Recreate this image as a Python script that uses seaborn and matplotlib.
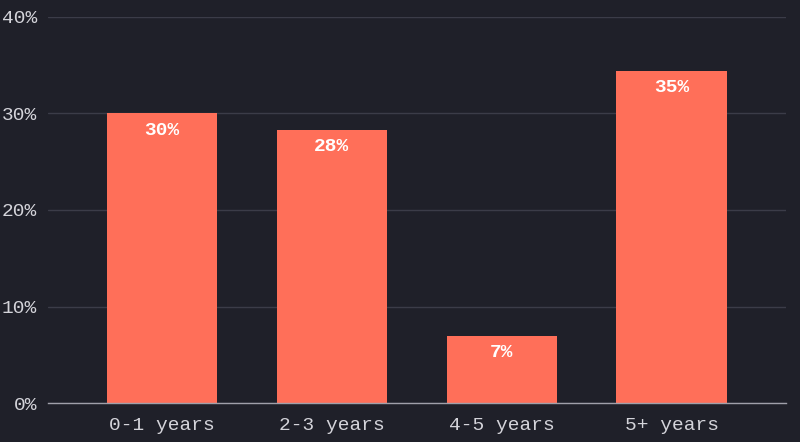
import matplotlib
matplotlib.use("Agg")
import matplotlib.pyplot as plt
import seaborn as sns
import pandas as pd

categories = ["0-1 years", "2-3 years", "4-5 years", "5+ years"]
shares = [30.0, 28.3, 7.0, 34.4]
labels = ["30%", "28%", "7%", "35%"]
yticks = [0, 10, 20, 30, 40]

bg = "#1f2029"
bar_color = "#ff6f59"

sns.set_style("dark")
plt.rcParams["font.family"] = ["Liberation Mono", "DejaVu Sans Mono"]

df = pd.DataFrame({"tenure": categories, "share": shares})

fig = plt.figure(figsize=(8, 4.42), dpi=100, facecolor=bg)
ax = fig.add_axes([0.06, 0.088, 0.922, 0.874])
ax.set_facecolor(bg)

sns.barplot(data=df, x="tenure", y="share", color=bar_color, width=0.65,
            saturation=1, ax=ax, zorder=3, edgecolor=bar_color, linewidth=0)

for patch, lab in zip(ax.patches, labels):
    cx = patch.get_x() + patch.get_width() / 2
    ax.text(cx, patch.get_height() - 1.75, lab, ha="center", va="center",
            color="white", fontsize=14, fontweight="bold", zorder=4)

ax.set_ylim(0, 40)
ax.set_xlim(-0.67, 3.67)
ax.set_yticks(yticks)
ax.set_yticklabels([f"{t}%" for t in yticks])
ax.grid(axis="y", color="#3b3c48", linewidth=1, zorder=0)
ax.grid(axis="x", visible=False)
for s in ["top", "right", "left"]:
    ax.spines[s].set_visible(False)
ax.spines["bottom"].set_color("#a0a0aa")
ax.spines["bottom"].set_linewidth(1)
ax.spines["bottom"].set_zorder(5)
ax.tick_params(axis="both", length=0, colors="#d4d4da", labelsize=14)
ax.tick_params(axis="x", pad=10)
ax.tick_params(axis="y", pad=8)
ax.set_xlabel("")
ax.set_ylabel("")

fig.savefig("out.png", dpi=100, facecolor=bg)
